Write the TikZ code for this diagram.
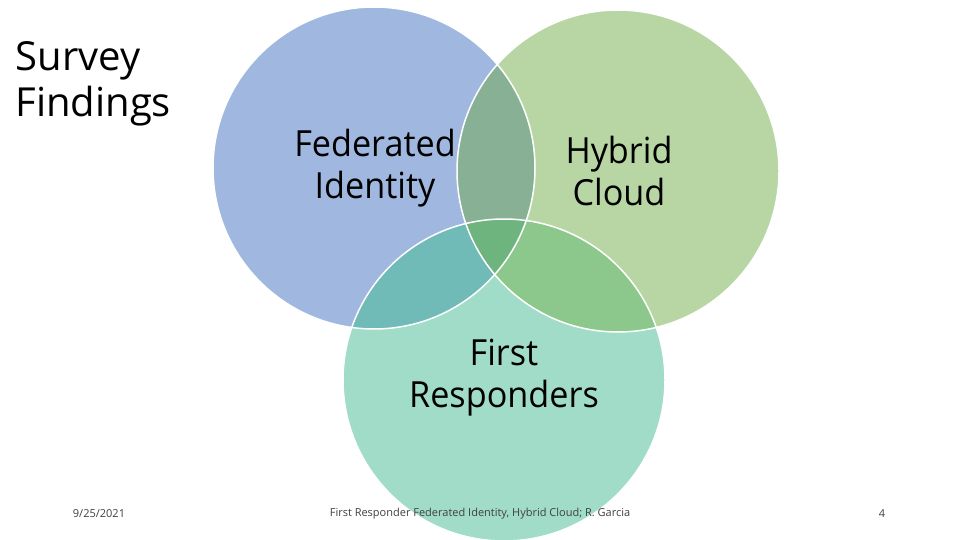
\documentclass[tikz,border=0pt]{standalone}
\usepackage{fontspec}
\setmainfont{Open Sans}
\begin{document}
\begin{tikzpicture}[x=1pt,y=-1pt,
  lbl/.style={align=center,font=\fontsize{36}{42}\selectfont\addfontfeatures{FakeStretch=0.95}},
  foot/.style={font=\fontsize{11}{13}\selectfont,text=black!75}]
\useasboundingbox (0,0) rectangle (960,540);
\fill[white] (0,0) rectangle (960,540);
\def\B{(374,168) circle (161)}
\def\G{(618,171) circle (161)}
\def\T{(504,380) circle (161)}
\fill[fill={rgb,255:red,160;green,184;blue,224}] \B;
\fill[fill={rgb,255:red,184;green,214;blue,164}] \G;
\fill[fill={rgb,255:red,160;green,220;blue,200}] \T;
\begin{scope}\clip \B; \fill[fill={rgb,255:red,136;green,176;blue,148}] \G; \fill[fill={rgb,255:red,112;green,186;blue,184}] \T; \end{scope}
\begin{scope}\clip \G; \fill[fill={rgb,255:red,140;green,200;blue,140}] \T; \end{scope}
\begin{scope}\clip \B; \clip \G; \fill[fill={rgb,255:red,110;green,180;blue,126}] \T; \end{scope}
\draw[white,line width=1.5] \B; \draw[white,line width=1.5] \G; \draw[white,line width=1.5] \T;
\node[lbl,anchor=north west,align=left,font=\fontsize{40}{46}\selectfont] (title) at (12,38) {Survey\\Findings};
\node[lbl] (fi) at (375,168) {Federated\\Identity};
\node[lbl] (hc) at (619,171) {Hybrid\\Cloud};
\node[lbl] (fr) at (504,378) {First\\Responders};
\node[foot] (d) at (99,514) {9/25/2021};
\node[foot] (f) at (480,514) {First Responder Federated Identity, Hybrid Cloud; R. Garcia};
\node[foot] (p) at (882,514) {4};
\end{tikzpicture}
\end{document}
